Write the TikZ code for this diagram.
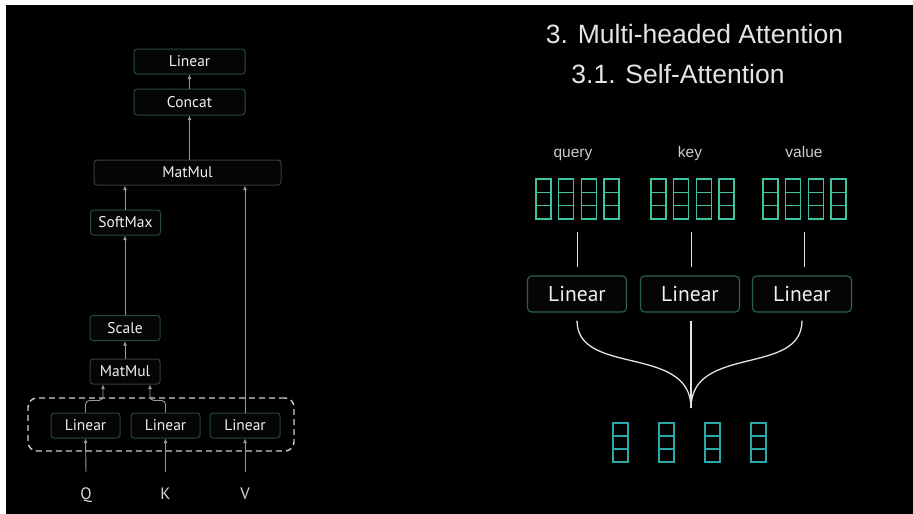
\documentclass[tikz,border=0pt]{standalone}
\usepackage{fontspec}
\usetikzlibrary{arrows.meta}
\newfontfamily\lfont{PT Sans}
\newfontfamily\tfont{Liberation Sans}
\definecolor{bdteal}{HTML}{264A40}
\definecolor{bdgray}{HTML}{3A3A46}
\definecolor{boxfill}{HTML}{050505}
\definecolor{txt}{HTML}{F0F0F0}
\definecolor{arrgray}{HTML}{9A9A9A}
\definecolor{dashc}{HTML}{CFCFCF}
\definecolor{vteal}{HTML}{3EC4A2}
\definecolor{oteal}{HTML}{2DA8A8}
\definecolor{rbd}{HTML}{2C6055}
\definecolor{wline}{HTML}{E2E2E2}
\tikzset{
  lbox/.style={draw=bdteal, fill=boxfill, rounded corners=3pt, line width=1pt, text=txt,
    font=\lfont\fontsize{15.5}{15.5}\selectfont, inner sep=0pt, minimum height=25pt},
  mbox/.style={lbox, draw=bdgray},
  arr/.style={draw=arrgray, line width=0.9pt, -{Latex[length=4.5pt,width=4pt]}},
  lab/.style={text=txt!90!black, font=\lfont\fontsize{16.5}{16.5}\selectfont, inner sep=0pt, anchor=base},
  rbox/.style={draw=rbd, fill=boxfill, rounded corners=4pt, line width=1.1pt, text=txt,
    font=\lfont\fontsize{21.5}{21.5}\selectfont, inner sep=0pt, minimum width=99pt, minimum height=36pt},
  vlab/.style={text=txt!85!black, font=\tfont\fontsize{15.5}{15.5}\selectfont, inner sep=0pt, anchor=base},
  title/.style={text=txt!95!black, font=\tfont\fontsize{26.5}{26.5}\selectfont, inner sep=0pt, anchor=base},
  cell/.style={draw=vteal, line width=1.5pt},
  ocell/.style={draw=oteal, line width=1.5pt},
  curve/.style={draw=wline, line width=1.3pt},
}
\begin{document}
\begin{tikzpicture}[x=1pt,y=-1pt]
\fill[white] (0,0) rectangle (913,514);
\fill[black] (6,5) rectangle (913,514);
\useasboundingbox (0,0) rectangle (913,514);

% ---------- left diagram ----------
\node[draw=dashc, line width=1.4pt, dash pattern=on 6pt off 4pt, rounded corners=9pt,
      minimum width=266pt, minimum height=53pt, inner sep=0pt] (dbox) at (161,424.5) {};
\node[lbox, minimum width=111pt] (lintop) at (189.5,61.5) {Linear};
\node[lbox, minimum width=111pt, minimum height=26pt] (concat) at (189.5,102) {Concat};
\node[mbox, minimum width=187pt] (mmbig) at (187.5,172.5) {MatMul};
\node[lbox, minimum width=70pt] (softmax) at (125.5,222.5) {SoftMax};
\node[lbox, minimum width=70pt] (scale) at (125,328) {Scale};
\node[mbox, minimum width=70pt] (mmsmall) at (125,371.5) {MatMul};
\node[lbox, minimum width=69pt] (linq) at (85.5,425.5) {Linear};
\node[lbox, minimum width=69pt] (link) at (165.5,425.5) {Linear};
\node[lbox, minimum width=70pt] (linv) at (245,425.5) {Linear};
\node[lab] (ql) at (86,499) {Q};
\node[lab] (kl) at (165.5,499) {K};
\node[lab] (vl) at (245,499) {V};
\coordinate (qs) at (86,472);
\coordinate (ks) at (165.5,472);
\coordinate (vs) at (245,472);

\draw[arr] (qs) -- (linq.south);
\draw[arr] (ks) -- (link.south);
\draw[arr] (vs) -- (linv.south);
\draw[arr, rounded corners=4pt] (linq.north) -- ++(0,-12) -| ([xshift=-22pt]mmsmall.south);
\draw[arr, rounded corners=4pt] (link.north) -- ++(0,-12) -| ([xshift=25pt]mmsmall.south);
\draw[arr] (mmsmall.north) -- (scale.south);
\draw[arr] (scale.north) -- (scale.north |- softmax.south);
\draw[arr] (softmax.north -| scale.north) -- (scale.north |- mmbig.south);
\draw[arr] (linv.north) -- (linv.north |- mmbig.south);
\draw[arr] (concat.south |- mmbig.north) -- (concat.south);
\draw[arr] (concat.north) -- (lintop.south);

% ---------- right diagram ----------
\node[title] (t1) at (694.5,43) {3. Multi-headed Attention};
\node[title] (t2) at (678,83) {3.1. Self-Attention};

\node[vlab] (ql2) at (573,157) {query};
\node[vlab] (kl2) at (690,157) {key};
\node[vlab] (vl2) at (804,157) {value};

\foreach \x in {536,651,763}{
  \foreach \c in {0,...,3}{
    \foreach \r in {0,1,2}{
      \draw[cell] ({\x+\c*22.7},{179+\r*13.33}) rectangle ++(15,13.33);
    }
  }
}
\node[minimum width=83pt, minimum height=40pt, inner sep=0pt] (gq) at (577.5,199) {};
\node[minimum width=83pt, minimum height=40pt, inner sep=0pt] (gk) at (691.5,199) {};
\node[minimum width=83pt, minimum height=40pt, inner sep=0pt] (gv) at (804.5,199) {};

\node[rbox] (r1) at (577,294) {Linear};
\node[rbox] (r2) at (690,294) {Linear};
\node[rbox] (r3) at (802,294) {Linear};

\draw[curve, shorten <=13pt, shorten >=8pt] (gq.south) -- (gq.south |- r1.north);
\draw[curve, shorten <=13pt, shorten >=8pt] (gk.south) -- (gk.south |- r2.north);
\draw[curve, shorten <=13pt, shorten >=8pt] (gv.south) -- (gv.south |- r3.north);

\coordinate (m) at (691,408);
\draw[curve] ([yshift=-8pt]r1.south) .. controls +(0,56) and +(0,-64) .. (m);
\draw[curve] ([yshift=-8pt]r3.south) .. controls +(0,56) and +(0,-64) .. (m);
\draw[curve] ([yshift=-8pt]r2.south -| m) -- (m);

\foreach \c in {0,...,3}{
  \foreach \r in {0,1,2}{
    \draw[ocell] ({613+\c*46},{423+\r*13}) rectangle ++(15,13);
  }
}
\end{tikzpicture}
\end{document}
